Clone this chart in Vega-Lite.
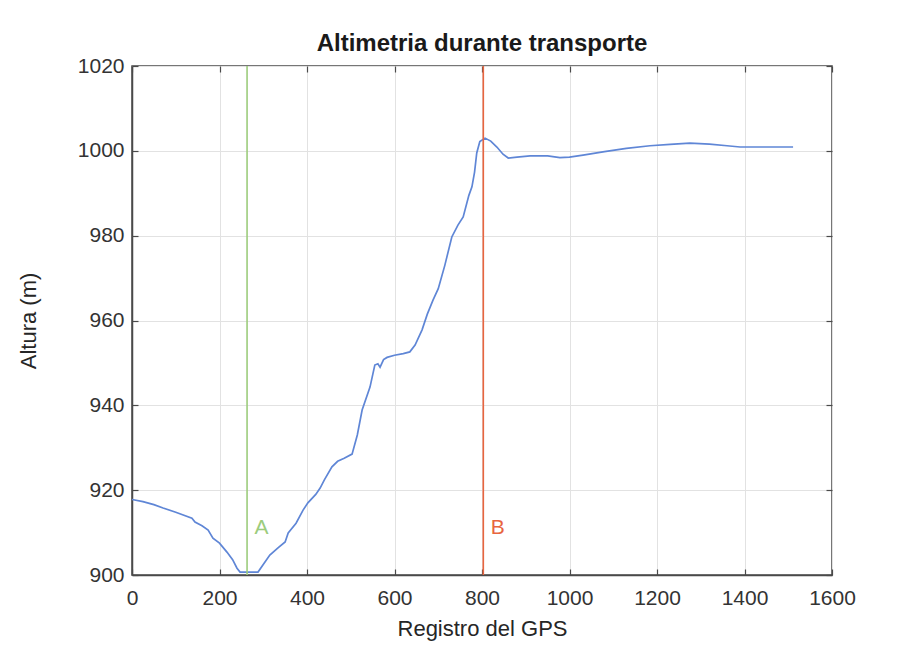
{
  "$schema": "https://vega.github.io/schema/vega-lite/v6.json",
  "width": 700,
  "height": 509,
  "autosize": {"type": "none"},
  "padding": {"left": 132, "top": 66, "right": 65, "bottom": 80},
  "background": "white",
  "config": {
    "font": "Liberation Sans",
    "view": {"stroke": "#4a4a4a", "strokeWidth": 1.5},
    "axis": {"labelFont": "Liberation Sans", "titleFont": "Liberation Sans"}
  },
  "title": {
    "text": "Altimetria durante transporte",
    "fontSize": 24,
    "fontWeight": "bold",
    "color": "#1a1a1a",
    "offset": -1,
    "anchor": "middle"
  },
  "datasets": {
    "alt": [
      {"reg": 0, "alt": 917.8}, {"reg": 25, "alt": 917.3}, {"reg": 50, "alt": 916.6},
      {"reg": 71, "alt": 915.8}, {"reg": 100, "alt": 914.8}, {"reg": 137, "alt": 913.4},
      {"reg": 144, "alt": 912.5}, {"reg": 160, "alt": 911.6}, {"reg": 174, "alt": 910.6},
      {"reg": 185, "alt": 908.7}, {"reg": 200, "alt": 907.5}, {"reg": 217, "alt": 905.4},
      {"reg": 230, "alt": 903.6}, {"reg": 240, "alt": 901.6}, {"reg": 247, "alt": 900.7},
      {"reg": 288, "alt": 900.7}, {"reg": 300, "alt": 902.5}, {"reg": 315, "alt": 904.7},
      {"reg": 335, "alt": 906.5}, {"reg": 350, "alt": 907.8}, {"reg": 357, "alt": 909.9},
      {"reg": 375, "alt": 912.2}, {"reg": 391, "alt": 915.3}, {"reg": 402, "alt": 917.0},
      {"reg": 420, "alt": 919.0}, {"reg": 430, "alt": 920.5}, {"reg": 440, "alt": 922.5},
      {"reg": 457, "alt": 925.5}, {"reg": 470, "alt": 926.8}, {"reg": 485, "alt": 927.5},
      {"reg": 503, "alt": 928.5}, {"reg": 515, "alt": 933.0}, {"reg": 526, "alt": 938.9},
      {"reg": 544, "alt": 944.3}, {"reg": 555, "alt": 949.5}, {"reg": 562, "alt": 949.8},
      {"reg": 567, "alt": 949.0}, {"reg": 575, "alt": 950.8}, {"reg": 583, "alt": 951.3},
      {"reg": 600, "alt": 951.8}, {"reg": 620, "alt": 952.2}, {"reg": 635, "alt": 952.6},
      {"reg": 647, "alt": 954.2}, {"reg": 663, "alt": 957.8}, {"reg": 675, "alt": 961.5},
      {"reg": 688, "alt": 964.8}, {"reg": 700, "alt": 967.5}, {"reg": 715, "alt": 973.0},
      {"reg": 731, "alt": 979.7}, {"reg": 745, "alt": 982.5}, {"reg": 757, "alt": 984.4},
      {"reg": 770, "alt": 989.5}, {"reg": 777, "alt": 991.5}, {"reg": 783, "alt": 995.0},
      {"reg": 788, "alt": 999.5}, {"reg": 795, "alt": 1002.2}, {"reg": 807, "alt": 1003.0},
      {"reg": 820, "alt": 1002.3}, {"reg": 834, "alt": 1000.9}, {"reg": 848, "alt": 999.2},
      {"reg": 860, "alt": 998.3}, {"reg": 880, "alt": 998.5}, {"reg": 910, "alt": 998.8},
      {"reg": 950, "alt": 998.8}, {"reg": 978, "alt": 998.4}, {"reg": 1000, "alt": 998.5},
      {"reg": 1031, "alt": 999.0}, {"reg": 1080, "alt": 999.8}, {"reg": 1130, "alt": 1000.6},
      {"reg": 1184, "alt": 1001.2}, {"reg": 1230, "alt": 1001.5}, {"reg": 1275, "alt": 1001.8},
      {"reg": 1320, "alt": 1001.6}, {"reg": 1360, "alt": 1001.2}, {"reg": 1390, "alt": 1000.9},
      {"reg": 1450, "alt": 1000.9}, {"reg": 1511, "alt": 1000.9}
    ],
    "marks": [
      {"reg": 263, "name": "A"},
      {"reg": 803, "name": "B"}
    ],
    "labels": [
      {"reg": 296, "alt": 911, "name": "A"},
      {"reg": 836, "alt": 911, "name": "B"}
    ]
  },
  "resolve": {"axis": {"x": "independent", "y": "independent"}},
  "layer": [
    {
      "data": {"name": "alt"},
      "mark": {"type": "line", "color": "#5f86d6", "strokeWidth": 1.7, "clip": true},
      "encoding": {
        "x": {
          "field": "reg", "type": "quantitative",
          "scale": {"domain": [0, 1600], "nice": false, "zero": false},
          "axis": {
            "orient": "bottom", "values": [0, 200, 400, 600, 800, 1000, 1200, 1400, 1600],
            "format": "d", "labelFlush": false, "labelOverlap": false,
            "title": "Registro del GPS", "titleFontSize": 22, "titleFontWeight": "normal",
            "titleColor": "#262626", "titlePadding": 10,
            "labelFontSize": 21, "labelColor": "#333333", "labelPadding": 12,
            "ticks": false,
            "domain": true, "domainColor": "#4a4a4a", "domainWidth": 1.5,
            "grid": true, "gridColor": "#e2e2e2", "gridWidth": 1
          }
        },
        "y": {
          "field": "alt", "type": "quantitative",
          "scale": {"domain": [900, 1020], "nice": false, "zero": false},
          "axis": {
            "orient": "left", "values": [900, 920, 940, 960, 980, 1000, 1020],
            "format": "d", "labelFlush": false, "labelOverlap": false,
            "title": "Altura (m)", "titleFontSize": 22, "titleFontWeight": "normal",
            "titleColor": "#262626", "titlePadding": 37,
            "labelFontSize": 21, "labelColor": "#333333", "labelPadding": 8,
            "ticks": false,
            "domain": true, "domainColor": "#4a4a4a", "domainWidth": 1.5,
            "grid": true, "gridColor": "#e2e2e2", "gridWidth": 1
          }
        }
      }
    },
    {
      "data": {"name": "marks"},
      "mark": {"type": "rule", "strokeWidth": 1.6},
      "encoding": {
        "x": {
          "field": "reg", "type": "quantitative",
          "axis": {
            "orient": "bottom", "offset": -6, "values": [0, 200, 400, 600, 800, 1000, 1200, 1400, 1600],
            "labels": false, "title": null, "grid": false, "domain": false,
            "tickSize": 6, "tickColor": "#4a4a4a", "tickWidth": 1.2
          }
        },
        "y": {
          "datum": 900, "type": "quantitative",
          "axis": {
            "orient": "left", "offset": -6, "values": [900, 920, 940, 960, 980, 1000, 1020],
            "labels": false, "title": null, "grid": false, "domain": false,
            "tickSize": 6, "tickColor": "#4a4a4a", "tickWidth": 1.2
          }
        },
        "y2": {"datum": 1020},
        "color": {
          "field": "name", "type": "nominal",
          "scale": {"domain": ["A", "B"], "range": ["#9ccc7c", "#e8653f"]},
          "legend": null
        }
      }
    },
    {
      "data": {"name": "labels"},
      "mark": {"type": "text", "fontSize": 21, "font": "Liberation Sans", "align": "center", "baseline": "middle"},
      "encoding": {
        "x": {
          "field": "reg", "type": "quantitative",
          "axis": {
            "orient": "top", "offset": -6, "values": [0, 200, 400, 600, 800, 1000, 1200, 1400, 1600],
            "labels": false, "title": null, "grid": false, "domain": false,
            "tickSize": 6, "tickColor": "#4a4a4a", "tickWidth": 1.2
          }
        },
        "y": {
          "field": "alt", "type": "quantitative",
          "axis": {
            "orient": "right", "offset": -6, "values": [900, 920, 940, 960, 980, 1000, 1020],
            "labels": false, "title": null, "grid": false, "domain": false,
            "tickSize": 6, "tickColor": "#4a4a4a", "tickWidth": 1.2
          }
        },
        "text": {"field": "name"},
        "color": {
          "field": "name", "type": "nominal",
          "scale": {"domain": ["A", "B"], "range": ["#9ccc7c", "#e8653f"]},
          "legend": null
        }
      }
    }
  ]
}
